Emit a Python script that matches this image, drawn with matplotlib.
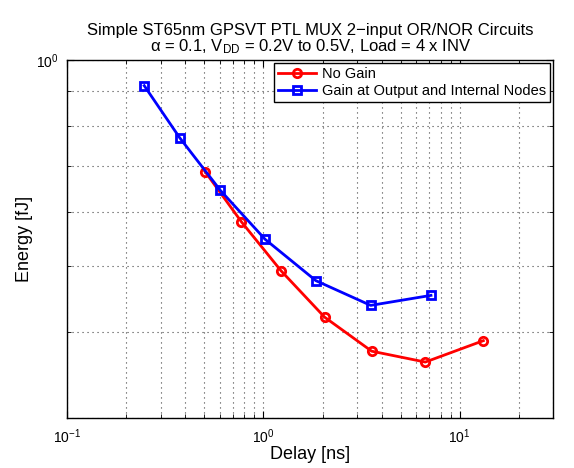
import matplotlib
matplotlib.use('Agg')
import matplotlib.pyplot as plt
from matplotlib.ticker import LogLocator, NullFormatter

plt.rcParams['font.family'] = ['Liberation Sans', 'DejaVu Sans']
plt.rcParams['mathtext.fontset'] = 'custom'
plt.rcParams['mathtext.rm'] = 'Liberation Sans'
plt.rcParams['mathtext.it'] = 'Liberation Sans:italic'

# delay [ns] and energy [fJ]
noGainDelay = [0.504, 0.773, 1.23, 2.05, 3.56, 6.68, 13.2]
noGainEnergy = [0.687, 0.580, 0.492, 0.421, 0.3755, 0.362, 0.389]
gainDelay = [0.247, 0.374, 0.603, 1.02, 1.85, 3.52, 7.14]
gainEnergy = [0.917, 0.770, 0.645, 0.547, 0.476, 0.438, 0.453]

labels = ['No Gain', 'Gain at Output and Internal Nodes']

fig = plt.figure(figsize=(5.74, 4.68), dpi=100)
ax = fig.add_axes([0.117, 0.107, 0.847, 0.765])

ax.loglog(noGainDelay, noGainEnergy, '-o', color='red', linewidth=2,
          markersize=6, markerfacecolor='none', markeredgewidth=2, label=labels[0])
ax.loglog(gainDelay, gainEnergy, '-s', color='blue', linewidth=2,
          markersize=6, markerfacecolor='none', markeredgewidth=2, label=labels[1])

ax.set_xlim(0.1, 30)
ax.set_ylim(0.3, 1)

ax.xaxis.set_major_locator(LogLocator(base=10, numticks=10))
ax.xaxis.set_minor_locator(LogLocator(base=10, subs=range(2, 10), numticks=20))
ax.xaxis.set_minor_formatter(NullFormatter())
ax.yaxis.set_major_locator(LogLocator(base=10, numticks=10))
ax.yaxis.set_minor_locator(LogLocator(base=10, subs=range(2, 10), numticks=20))
ax.yaxis.set_minor_formatter(NullFormatter())

ax.grid(True, which='both', linestyle=(0, (1, 3.5)), color='#444444', linewidth=0.8)
ax.tick_params(which='both', direction='in', top=True, right=True, labelsize=10)
ax.tick_params(which='major', length=5)
ax.tick_params(which='minor', length=3)
ax.tick_params(axis='x', which='major', pad=7)
ax.tick_params(axis='y', which='major', pad=6)
for s in ax.spines.values():
    s.set_linewidth(1)

ax.set_xlabel('Delay [ns]', fontsize=13, labelpad=0)
ax.set_ylabel('Energy [fJ]', fontsize=13, labelpad=2)
ax.set_title('Simple ST65nm GPSVT PTL MUX 2\u2212input OR/NOR Circuits\n'
             '\u03b1 = 0.1, V$_{\\rm DD}$ = 0.2V to 0.5V, Load = 4 x INV',
             fontsize=12, linespacing=1.0, pad=6)

leg = ax.legend(loc='upper right', fontsize=10.5, fancybox=False, framealpha=1,
                edgecolor='black', borderaxespad=0.2, handlelength=2.6,
                borderpad=0.3, labelspacing=0.2, handletextpad=0.4)
leg.get_frame().set_linewidth(1)

fig.savefig('out.png', dpi=100)
